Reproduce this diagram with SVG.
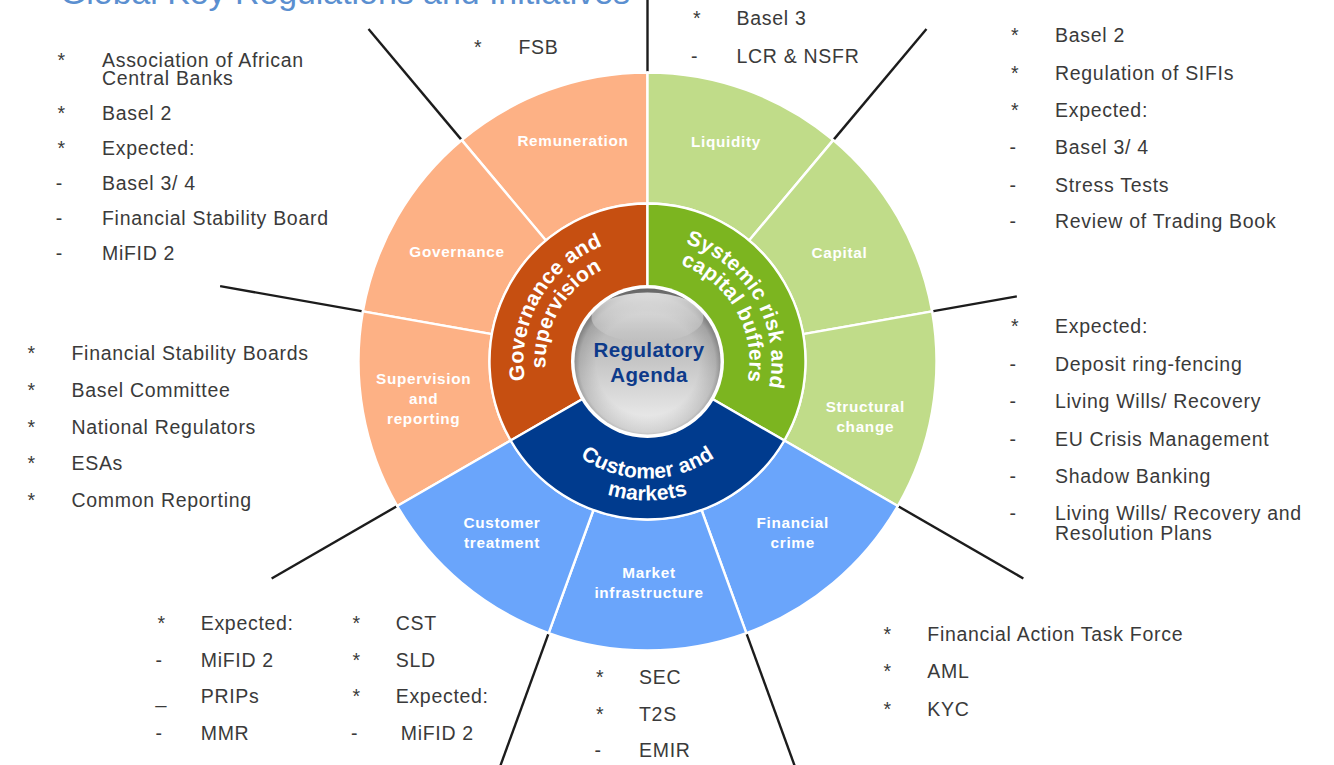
<svg xmlns="http://www.w3.org/2000/svg" xmlns:xlink="http://www.w3.org/1999/xlink" width="1334" height="765" viewBox="0 0 1334 765">
  <defs>
    <style>
      .seg { stroke: #ffffff; stroke-width: 2.4; stroke-linejoin: round; }
      .lbl { font-family: "Liberation Sans", Arial, sans-serif; font-weight: bold; font-size: 15.3px; fill: #ffffff; text-anchor: middle; letter-spacing: 0.7px; }
      .core { font-family: "Liberation Sans", Arial, sans-serif; font-weight: bold; font-size: 21px; fill: #ffffff; letter-spacing: 0.2px; }
      .hub { font-family: "Liberation Sans", Arial, sans-serif; font-weight: bold; font-size: 20.5px; fill: #0d3a8a; text-anchor: middle; letter-spacing: 0.4px; }
      .list text { font-family: "Liberation Sans", Arial, sans-serif; font-size: 19.5px; fill: #3a3a3a; letter-spacing: 0.7px; }
      .list .b { letter-spacing: 0; }
      #connectors line { stroke: #1c1c1c; stroke-width: 2.4; stroke-linecap: butt; }
      .title { font-family: "Liberation Sans", Arial, sans-serif; font-size: 34px; fill: #5b8fd0; }
    </style>
    <!-- arcs for the curved labels of the inner ring (centre-relative) -->
    <path id="arcG1" d="M -107.387 62 A 124 124 0 0 1 0 -124"/>
    <path id="arcG2" d="M -88.335 51 A 102 102 0 0 1 0 -102"/>
    <path id="arcS1" d="M 0 -124 A 124 124 0 0 1 107.387 62"/>
    <path id="arcS2" d="M 0 -102 A 102 102 0 0 1 88.335 51"/>
    <path id="arcC1" d="M -101.325 58.5 A 117 117 0 0 0 101.325 58.5"/>
    <path id="arcC2" d="M -120.378 69.5 A 139 139 0 0 0 120.378 69.5"/>
    <linearGradient id="silver" x1="0" y1="0" x2="0" y2="1">
      <stop offset="0" stop-color="#8f8f8f"/>
      <stop offset="0.18" stop-color="#b4b4b4"/>
      <stop offset="0.5" stop-color="#c6c6c6"/>
      <stop offset="0.82" stop-color="#e2e2e2"/>
      <stop offset="1" stop-color="#f0f0f0"/>
    </linearGradient>
    <radialGradient id="silverEdge" cx="0.5" cy="0.52" r="0.5">
      <stop offset="0.7" stop-color="#000000" stop-opacity="0"/>
      <stop offset="0.93" stop-color="#000000" stop-opacity="0.12"/>
      <stop offset="1" stop-color="#000000" stop-opacity="0.28"/>
    </radialGradient>
    <linearGradient id="gloss" x1="0" y1="0" x2="0" y2="1">
      <stop offset="0" stop-color="#ffffff" stop-opacity="0.75"/>
      <stop offset="1" stop-color="#ffffff" stop-opacity="0"/>
    </linearGradient>
  </defs>

  <rect width="1334" height="765" fill="#ffffff"/>

  <g id="title">
    <text class="title" x="60" y="4" textLength="570" lengthAdjust="spacingAndGlyphs">Global Key Regulations and Initiatives</text>
  </g>

  <!-- leader lines from the sector boundaries out to the lists -->
  <g id="connectors" transform="translate(647.5,361.5)">
    <line x1="0" y1="-289" x2="0" y2="-363"/>
    <line x1="-185.766" y1="-221.387" x2="-278.970" y2="-332.463"/>
    <line x1="185.766" y1="-221.387" x2="278.970" y2="-332.463"/>
    <line x1="-284.610" y1="-50.184" x2="-427.407" y2="-75.363"/>
    <line x1="284.610" y1="-50.184" x2="369.303" y2="-65.118"/>
    <line x1="-250.281" y1="144.5" x2="-375.855" y2="217"/>
    <line x1="250.281" y1="144.5" x2="375.855" y2="217"/>
    <line x1="-98.844" y1="271.571" x2="-148.437" y2="407.827"/>
    <line x1="98.844" y1="271.571" x2="148.437" y2="407.827"/>
  </g>

  <g id="wheel" transform="translate(647.5,361.5)">
    <!-- outer ring: governance topics -->
    <g id="remuneration">
      <path class="seg" fill="#fdb185" d="M -185.766 -221.387 A 289 289 0 0 1 0 -289 L 0 -158 A 158 158 0 0 0 -101.560 -121.035 Z"/>
      <text class="lbl" x="-74.5" y="-215.5">Remuneration</text>
    </g>
    <g id="governance">
      <path class="seg" fill="#fdb185" d="M -284.610 -50.184 A 289 289 0 0 1 -185.766 -221.387 L -101.560 -121.035 A 158 158 0 0 0 -155.600 -27.436 Z"/>
      <text class="lbl" x="-190.5" y="-105">Governance</text>
    </g>
    <g id="supervision-reporting">
      <path class="seg" fill="#fdb185" d="M -250.281 144.5 A 289 289 0 0 1 -284.610 -50.184 L -155.600 -27.436 A 158 158 0 0 0 -136.832 79 Z"/>
      <text class="lbl" x="-223.8" y="22.8">Supervision<tspan x="-223.8" y="42.5">and</tspan><tspan x="-223.8" y="62">reporting</tspan></text>
    </g>
    <!-- outer ring: systemic risk topics -->
    <g id="liquidity">
      <path class="seg" fill="#c0dc89" d="M 0 -289 A 289 289 0 0 1 185.766 -221.387 L 101.560 -121.035 A 158 158 0 0 0 0 -158 Z"/>
      <text class="lbl" x="78.5" y="-214.5">Liquidity</text>
    </g>
    <g id="capital">
      <path class="seg" fill="#c0dc89" d="M 185.766 -221.387 A 289 289 0 0 1 284.610 -50.184 L 155.600 -27.436 A 158 158 0 0 0 101.560 -121.035 Z"/>
      <text class="lbl" x="192" y="-103.5">Capital</text>
    </g>
    <g id="structural-change">
      <path class="seg" fill="#c0dc89" d="M 284.610 -50.184 A 289 289 0 0 1 250.281 144.5 L 136.832 79 A 158 158 0 0 0 155.600 -27.436 Z"/>
      <text class="lbl" x="217.8" y="50.2">Structural<tspan x="217.8" y="70.2">change</tspan></text>
    </g>
    <!-- outer ring: customer and market topics -->
    <g id="financial-crime">
      <path class="seg" fill="#6aa5fb" d="M 250.281 144.5 A 289 289 0 0 1 98.844 271.571 L 54.039 148.471 A 158 158 0 0 0 136.832 79 Z"/>
      <text class="lbl" x="145.2" y="166.8">Financial<tspan x="145.2" y="186.8">crime</tspan></text>
    </g>
    <g id="market-infrastructure">
      <path class="seg" fill="#6aa5fb" d="M 98.844 271.571 A 289 289 0 0 1 -98.844 271.571 L -54.039 148.471 A 158 158 0 0 0 54.039 148.471 Z"/>
      <text class="lbl" x="1.5" y="216.8">Market<tspan x="1.5" y="236.8">infrastructure</tspan></text>
    </g>
    <g id="customer-treatment">
      <path class="seg" fill="#6aa5fb" d="M -98.844 271.571 A 289 289 0 0 1 -250.281 144.5 L -136.832 79 A 158 158 0 0 0 -54.039 148.471 Z"/>
      <text class="lbl" x="-145.5" y="166.8">Customer<tspan x="-145.5" y="186.8">treatment</tspan></text>
    </g>

    <!-- inner ring: the three themes -->
    <g id="governance-supervision">
      <path class="seg" fill="#c64f11" d="M -136.832 79 A 158 158 0 0 1 0 -158 L 0 -70 A 70 70 0 0 0 -60.622 35 Z"/>
      <text class="core"><textPath xlink:href="#arcG1" href="#arcG1" startOffset="50%" text-anchor="middle">Governance and</textPath></text>
      <text class="core"><textPath xlink:href="#arcG2" href="#arcG2" startOffset="50%" text-anchor="middle">supervision</textPath></text>
    </g>
    <g id="systemic-risk">
      <path class="seg" fill="#7cb520" d="M 0 -158 A 158 158 0 0 1 136.832 79 L 60.622 35 A 70 70 0 0 0 0 -70 Z"/>
      <text class="core"><textPath xlink:href="#arcS1" href="#arcS1" startOffset="50%" text-anchor="middle">Systemic risk and</textPath></text>
      <text class="core"><textPath xlink:href="#arcS2" href="#arcS2" startOffset="50%" text-anchor="middle">capital buffers</textPath></text>
    </g>
    <g id="customer-markets">
      <path class="seg" fill="#003b8e" d="M 136.832 79 A 158 158 0 0 1 -136.832 79 L -60.622 35 A 70 70 0 0 0 60.622 35 Z"/>
      <text class="core"><textPath xlink:href="#arcC1" href="#arcC1" startOffset="50%" text-anchor="middle">Customer and</textPath></text>
      <text class="core"><textPath xlink:href="#arcC2" href="#arcC2" startOffset="50%" text-anchor="middle">markets</textPath></text>
    </g>

    <!-- hub -->
    <g id="regulatory-agenda">
      <circle r="76.5" fill="#ffffff"/>
      <circle r="73" fill="url(#silver)"/>
      <circle r="73" fill="url(#silverEdge)"/>
      <ellipse cx="0" cy="-44" rx="56" ry="25" fill="url(#gloss)"/>
      <text class="hub" x="1.5" y="-4.8">Regulatory</text>
      <text class="hub" x="1.5" y="20.2">Agenda</text>
    </g>
  </g>

  <!-- lists of regulations per topic -->
  <g id="list-remuneration" class="list">
    <text class="b" x="474" y="54">*</text><text x="518.5" y="54">FSB</text>
  </g>
  <g id="list-governance" class="list">
    <text class="b" x="57.5" y="67">*</text><text x="102" y="67">Association of African</text>
    <text x="102" y="85">Central Banks</text>
    <text class="b" x="57.5" y="120">*</text><text x="102" y="120">Basel 2</text>
    <text class="b" x="57.5" y="155">*</text><text x="102" y="155">Expected:</text>
    <text class="b" x="55.8" y="189.5">-</text><text x="102" y="189.5">Basel 3/ 4</text>
    <text class="b" x="55.8" y="224.5">-</text><text x="102" y="224.5">Financial Stability Board</text>
    <text class="b" x="55.8" y="259.5">-</text><text x="102" y="259.5">MiFID 2</text>
  </g>
  <g id="list-supervision" class="list">
    <text class="b" x="27.5" y="360">*</text><text x="71.5" y="360">Financial Stability Boards</text>
    <text class="b" x="27.5" y="396.8">*</text><text x="71.5" y="396.8">Basel Committee</text>
    <text class="b" x="27.5" y="433.5">*</text><text x="71.5" y="433.5">National Regulators</text>
    <text class="b" x="27.5" y="470.2">*</text><text x="71.5" y="470.2">ESAs</text>
    <text class="b" x="27.5" y="507">*</text><text x="71.5" y="507">Common Reporting</text>
  </g>
  <g id="list-liquidity" class="list">
    <text class="b" x="693" y="25">*</text><text x="736.5" y="25">Basel 3</text>
    <text class="b" x="691" y="63.3">-</text><text x="736.5" y="63.3">LCR &amp; NSFR</text>
  </g>
  <g id="list-capital" class="list">
    <text class="b" x="1011" y="42.3">*</text><text x="1055" y="42.3">Basel 2</text>
    <text class="b" x="1011" y="80">*</text><text x="1055" y="80">Regulation of SIFIs</text>
    <text class="b" x="1011" y="116.7">*</text><text x="1055" y="116.7">Expected:</text>
    <text class="b" x="1009.5" y="154">-</text><text x="1055" y="154">Basel 3/ 4</text>
    <text class="b" x="1009.5" y="191.7">-</text><text x="1055" y="191.7">Stress Tests</text>
    <text class="b" x="1009.5" y="228.3">-</text><text x="1055" y="228.3">Review of Trading Book</text>
  </g>
  <g id="list-structural" class="list">
    <text class="b" x="1011" y="333.3">*</text><text x="1055" y="333.3">Expected:</text>
    <text class="b" x="1009.5" y="370.7">-</text><text x="1055" y="370.7">Deposit ring-fencing</text>
    <text class="b" x="1009.5" y="408.3">-</text><text x="1055" y="408.3">Living Wills/ Recovery</text>
    <text class="b" x="1009.5" y="445.7">-</text><text x="1055" y="445.7">EU Crisis Management</text>
    <text class="b" x="1009.5" y="482.7">-</text><text x="1055" y="482.7">Shadow Banking</text>
    <text class="b" x="1009.5" y="520">-</text><text x="1055" y="520">Living Wills/ Recovery and</text>
    <text x="1055" y="540">Resolution Plans</text>
  </g>
  <g id="list-financial-crime" class="list">
    <text class="b" x="883.5" y="640.8">*</text><text x="927.3" y="640.8">Financial Action Task Force</text>
    <text class="b" x="883.5" y="678.3">*</text><text x="927.3" y="678.3">AML</text>
    <text class="b" x="883.5" y="715.8">*</text><text x="927.3" y="715.8">KYC</text>
  </g>
  <g id="list-market" class="list">
    <text class="b" x="596" y="684">*</text><text x="639" y="684">SEC</text>
    <text class="b" x="596" y="720.5">*</text><text x="639" y="720.5">T2S</text>
    <text class="b" x="594.5" y="757">-</text><text x="639" y="757">EMIR</text>
  </g>
  <g id="list-customer" class="list">
    <text class="b" x="157.5" y="630">*</text><text x="200.7" y="630">Expected:</text>
    <text class="b" x="155.5" y="666.7">-</text><text x="200.7" y="666.7">MiFID 2</text>
    <text class="b" x="155.5" y="703.3">_</text><text x="200.7" y="703.3">PRIPs</text>
    <text class="b" x="155.5" y="740">-</text><text x="200.7" y="740">MMR</text>
    <text class="b" x="352.5" y="630">*</text><text x="395.7" y="630">CST</text>
    <text class="b" x="352.5" y="666.7">*</text><text x="395.7" y="666.7">SLD</text>
    <text class="b" x="352.5" y="703.3">*</text><text x="395.7" y="703.3">Expected:</text>
    <text class="b" x="351" y="740">-</text><text x="400.7" y="740">MiFID 2</text>
  </g>
</svg>
